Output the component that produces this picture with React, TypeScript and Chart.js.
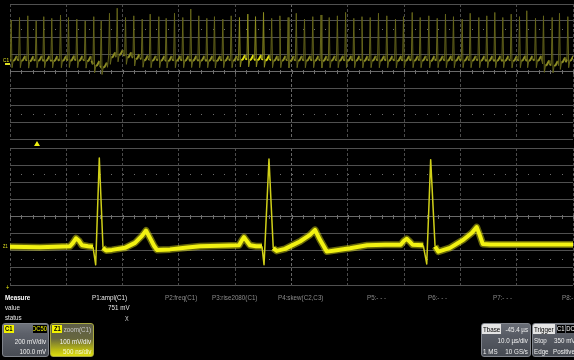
import React, { useEffect, useRef } from "react";
import { Chart, registerables } from "chart.js";

Chart.register(...registerables);

// ---------- C1 trace (top panel): 10 µs/div, 200 mV/div ----------
// time of each beat's spike (µs)
const topSpikeTimesUs = [
  0.21, 1.69, 3.16, 4.65, 6.0, 7.42, 8.97, 10.39, 11.87, 13.36,
  14.88, 16.2, 17.67, 19.04, 20.52, 21.99, 23.48, 24.9, 26.43, 27.74,
  29.22, 30.69, 32.11, 33.53, 34.96, 36.32, 37.8, 39.29, 40.76, 42.24,
  43.61, 45.03, 46.48, 47.94, 49.4, 50.85, 52.31, 53.78, 55.24, 56.7,
  58.15, 59.61, 61.07, 62.52, 63.98, 65.45, 66.93, 68.47, 69.89, 71.44,
  72.86, 74.39, 75.88, 77.35, 78.77, 80.32, 81.74, 83.27, 84.69, 86.11,
  87.53, 89.02, 90.5, 91.79, 93.34, 94.76, 96.3, 97.6, 99.08,
];
// spike peak of each beat (mV)
const topSpikePeaksMv = [
  610, 640, 660, 600, 650, 630, 670, 640, 620, 600,
  650, 600, 690, 750, 640, 660, 620, 680, 650, 630,
  690, 640, 740, 660, 630, 650, 620, 660, 640, 680,
  650, 700, 630, 660, 640, 690, 620, 650, 670, 640,
  660, 700, 630, 650, 640, 690, 660, 620, 650, 700,
  640, 660, 630, 680, 650, 620, 690, 640, 660, 700,
  640, 680, 650, 720, 630, 660, 640, 690, 650,
];
// baseline level around each beat (mV)
const topBaselineMv = [
  140, 140, 135, 140, 140, 138, 140, 142, 140, 135,
  80, 60, 180, 210, 180, 160, 145, 140, 140, 138,
  140, 140, 142, 140, 140, 138, 140, 140, 150, 150,
  150, 145, 140, 140, 138, 140, 140, 140, 138, 140,
  140, 140, 140, 138, 140, 140, 140, 138, 140, 140,
  140, 138, 140, 140, 140, 140, 140, 140, 140, 140,
  140, 138, 140, 140, 140, 85, 80, 120, 140,
];
// persistence intensity of each beat (1 = bright)
const topBrightBeats = [
  0, 0, 0, 0, 0, 0, 0, 0, 0, 0,
  0, 0, 0, 0, 0, 0, 0, 0, 0, 0,
  0, 0, 0, 0, 0, 0, 0, 0, 1, 1,
  1, 1, 0, 0, 0, 0, 0, 0, 0, 0,
  0, 0, 0, 0, 0, 0, 0, 0, 0, 0,
  0, 0, 0, 0, 0, 0, 0, 0, 0, 0,
  0, 0, 0, 0, 0, 0, 0, 0, 0,
];

// ---------- Z1 zoom trace (bottom panel): 500 ns/div, 100 mV/div ----------
const zoomTimesUs = [
  0, 0.266, 0.533, 0.559, 0.586, 0.613, 0.639, 0.693, 0.737, 0.761,
  0.793, 0.826, 0.853, 0.906, 1.021, 1.11, 1.172, 1.208, 1.243, 1.279,
  1.305, 1.421, 1.554, 1.687, 1.865, 2.034, 2.06, 2.078, 2.105, 2.131,
  2.185, 2.238, 2.256, 2.3, 2.338, 2.369, 2.442, 2.575, 2.664, 2.709,
  2.753, 2.813, 2.886, 3.02, 3.171, 3.331, 3.47, 3.499, 3.523, 3.552,
  3.576, 3.67, 3.701, 3.736, 3.775, 3.804, 3.908, 4.026, 4.103, 4.145,
  4.174, 4.198, 4.263, 5.0,
];
const zoomValuesMv = [
  -177, -180, -174, -154, -127, -142, -168, -174, -177, -282,
  342, -183, -198, -195, -183, -154, -113, -82, -125, -171,
  -195, -192, -183, -174, -171, -168, -138, -121, -145, -168,
  -174, -174, -282, 336, -185, -201, -189, -146, -107, -78,
  -136, -205, -198, -185, -168, -165, -165, -142, -130, -148,
  -165, -168, -277, 332, -175, -205, -183, -136, -95, -62,
  -113, -160, -163, -163,
];

// ---------- texts ----------
const measureHeaders = [
  { label: "P1:ampl(C1)", x: 92, on: true },
  { label: "P2:freq(C1)", x: 165, on: false },
  { label: "P3:rise2080(C1)", x: 212, on: false },
  { label: "P4:skew(C2,C3)", x: 278, on: false },
  { label: "P5:- - -", x: 367, on: false },
  { label: "P6:- - -", x: 428, on: false },
  { label: "P7:- - -", x: 493, on: false },
  { label: "P8:- - -", x: 562, on: false },
];
const p1Value = "751 mV";

const FONT = '"Liberation Sans", Arial, sans-serif';
const SQUEEZE = 0.78;

const TOP_POINTS_PER_BEAT = 7;

function buildTopPoints() {
  const pts: { x: number; y: number }[] = [{ x: 0, y: topBaselineMv[0] }];
  for (let i = 0; i < topSpikeTimesUs.length; i++) {
    const t = topSpikeTimesUs[i];
    const b = topBaselineMv[i];
    const p = topSpikePeaksMv[i];
    pts.push({ x: t - 0.15, y: b + 5 });
    pts.push({ x: t, y: p });
    pts.push({ x: t + 0.15, y: b - 95 });
    pts.push({ x: t + 0.35, y: b - 15 });
    pts.push({ x: t + 0.6, y: b - 5 });
    pts.push({ x: t + 1.0, y: b + 45 });
    pts.push({ x: t + 1.12, y: b - 10 });
  }
  return pts;
}

const minorMarks = {
  id: "minorMarks",
  beforeDatasetsDraw(chart: any) {
    const { ctx, scales } = chart;
    const x = scales.x;
    const y = scales.y;
    const xStep = x.options.ticks.stepSize / 5;
    const yStep = y.options.ticks.stepSize;
    ctx.save();
    ctx.fillStyle = "#6e6e6e";
    const py0 = Math.round(y.getPixelForValue(0));
    const pyA = Math.round(y.getPixelForValue(yStep * 2.5));
    const pyB = Math.round(y.getPixelForValue(-yStep * 2.5));
    for (let v = x.min; v <= x.max + 1e-9; v += xStep) {
      const px = Math.round(x.getPixelForValue(v));
      ctx.fillRect(px, py0 - 2, 1, 4);
      ctx.fillRect(px, pyA, 1, 1);
      ctx.fillRect(px, pyB, 1, 1);
    }
    ctx.restore();
  },
};

function gridScales(xMax: number, xStep: number, yMax: number, yStep: number) {
  return {
    x: {
      type: "linear" as const,
      min: 0,
      max: xMax,
      ticks: { display: false, stepSize: xStep },
      grid: {
        drawTicks: false,
        color: (c: any) => (Math.abs(c.tick.value - xMax / 2) < 1e-6 ? "#666666" : "#4a4a4a"),
        lineWidth: 1,
      },
      border: { display: false, dash: [3, 2] },
    },
    y: {
      type: "linear" as const,
      min: -yMax,
      max: yMax,
      ticks: { display: false, stepSize: yStep },
      grid: {
        drawTicks: false,
        color: (c: any) => (Math.abs(c.tick.value) < 1e-6 ? "#6a6a6a" : "#505050"),
        lineWidth: 1,
      },
      border: { display: false },
    },
  };
}

function steep(ctx: any, k: number) {
  const dx = Math.abs(ctx.p1.x - ctx.p0.x);
  const dy = Math.abs(ctx.p1.y - ctx.p0.y);
  return dy > k * Math.max(0.5, dx);
}

export default function App() {
  const topRef = useRef<HTMLCanvasElement>(null);
  const botRef = useRef<HTMLCanvasElement>(null);

  useEffect(() => {
    const topChart = new Chart(topRef.current as HTMLCanvasElement, {
      type: "line",
      data: {
        datasets: [
          {
            data: buildTopPoints(),
            borderColor: "#8f8f24",
            borderWidth: 2,
            pointRadius: 0,
            tension: 0,
            segment: {
              borderWidth: (c: any) => (steep(c, 3) ? 1 : 2),
              borderColor: (c: any) => {
                const beat = Math.max(0, Math.floor((c.p0DataIndex - 1) / TOP_POINTS_PER_BEAT));
                const bright = topBrightBeats[beat] === 1;
                if (steep(c, 3)) return bright ? "#8c8c1e" : "#64641a";
                return bright ? "#e0e010" : "#8e8e26";
              },
            },
          },
        ],
      },
      options: {
        responsive: false,
        animation: false,
        events: [],
        layout: { padding: { left: 10, right: 1, top: 4, bottom: 221 } },
        plugins: { legend: { display: false }, tooltip: { enabled: false } },
        scales: gridScales(100, 10, 800, 200),
      },
      plugins: [minorMarks],
    });

    const zoomPoints = zoomTimesUs.map((t, i) => ({ x: t, y: zoomValuesMv[i] }));
    const botChart = new Chart(botRef.current as HTMLCanvasElement, {
      type: "line",
      data: {
        datasets: [
          {
            data: zoomPoints,
            borderColor: "#f0f010",
            borderWidth: 4,
            pointRadius: 0,
            tension: 0,
            borderJoinStyle: "round",
            segment: {
              borderWidth: (c: any) => (steep(c, 4) ? 1.5 : 4),
              borderColor: (c: any) => (steep(c, 4) ? "#d0d018" : "#f2f212"),
            },
            order: 1,
          },
          {
            data: zoomPoints,
            borderColor: "rgba(230,230,20,0.45)",
            borderWidth: 7,
            pointRadius: 0,
            tension: 0,
            borderJoinStyle: "round",
            segment: {
              borderWidth: (c: any) => (steep(c, 4) ? 0 : 7),
              borderColor: (c: any) => (steep(c, 4) ? "rgba(0,0,0,0)" : "rgba(230,230,20,0.45)"),
            },
            order: 2,
          },
        ],
      },
      options: {
        responsive: false,
        animation: false,
        events: [],
        layout: { padding: { left: 10, right: 1, top: 148, bottom: 75 } },
        plugins: { legend: { display: false }, tooltip: { enabled: false } },
        scales: gridScales(5, 0.5, 400, 100),
      },
      plugins: [minorMarks],
    });

    return () => {
      topChart.destroy();
      botChart.destroy();
    };
  }, []);

  const txt = (
    content: React.ReactNode,
    x: number,
    y: number,
    opts: { color?: string; bold?: boolean; right?: boolean; size?: number; squeeze?: number } = {}
  ) => {
    const size = opts.size ?? 8;
    const style: React.CSSProperties = {
      position: "absolute",
      top: y - (size + 2) / 2,
      fontSize: size,
      lineHeight: `${size + 2}px`,
      color: opts.color ?? "#e8e8e8",
      fontWeight: opts.bold ? 700 : 400,
      whiteSpace: "nowrap",
      transform: `scaleX(${opts.squeeze ?? SQUEEZE})`,
      transformOrigin: opts.right ? "right center" : "left center",
    };
    if (opts.right) style.right = 574 - x;
    else style.left = x;
    return <div style={style}>{content}</div>;
  };

  const boxBase: React.CSSProperties = {
    position: "absolute",
    top: 323,
    height: 34,
    borderRadius: 3,
    overflow: "hidden",
    boxSizing: "border-box",
  };
  const inner = (content: React.ReactNode, style: React.CSSProperties, origin = "right") => (
    <div
      style={{
        position: "absolute",
        fontSize: 8,
        lineHeight: "9px",
        whiteSpace: "nowrap",
        transform: `scaleX(${SQUEEZE})`,
        transformOrigin: `${origin} center`,
        ...style,
      }}
    >
      {content}
    </div>
  );
  const tag = (content: string, style: React.CSSProperties) => (
    <div
      style={{
        position: "absolute",
        height: 8,
        overflow: "hidden",
        display: "flex",
        alignItems: "center",
        justifyContent: "center",
        ...style,
      }}
    >
      <span style={{ fontSize: 7.5, lineHeight: "8px", whiteSpace: "nowrap", transform: `scaleX(${SQUEEZE})` }}>
        {content}
      </span>
    </div>
  );

  return (
    <div
      style={{
        position: "fixed",
        left: 0,
        top: 0,
        width: 574,
        height: 360,
        background: "#000",
        overflow: "hidden",
        fontFamily: FONT,
      }}
    >
      <canvas ref={topRef} width={574} height={360} style={{ position: "absolute", left: 0, top: 0 }} />
      <canvas ref={botRef} width={574} height={360} style={{ position: "absolute", left: 0, top: 0 }} />

      {/* channel markers */}
      {txt("C1", 3, 60, { color: "#e0e020", size: 6 })}
      <div style={{ position: "absolute", left: 5, top: 63, width: 5, height: 2, background: "#e0e020" }} />
      {txt("Z1", 3, 246, { color: "#e0e020", size: 5 })}
      <div
        style={{
          position: "absolute",
          left: 34,
          top: 141,
          width: 0,
          height: 0,
          borderLeft: "3px solid transparent",
          borderRight: "3px solid transparent",
          borderBottom: "5px solid #f0f010",
        }}
      />
      {txt("+", 6, 287, { color: "#f0f010", size: 7 })}

      {/* measurement table */}
      {txt("Measure", 5, 298, { bold: true, color: "#ffffff" })}
      {txt("value", 5, 308)}
      {txt("status", 5, 318)}
      {measureHeaders.map((m) => (
        <React.Fragment key={m.label}>{txt(m.label, m.x, 298, { color: m.on ? "#e8e8e8" : "#8c8c8c" })}</React.Fragment>
      ))}
      {txt(p1Value, 130, 308, { right: true })}
      {txt("X", 125, 318, { color: "#dcdcdc", size: 7 })}

      {/* C1 box */}
      <div
        style={{
          ...boxBase,
          left: 2,
          width: 47,
          background: "linear-gradient(#70747d 0%, #5d616a 30%, #484c54 100%)",
          border: "1px solid #80848c",
        }}
      >
        {tag("C1", { left: 1, top: 1, width: 10, background: "#f2f200", color: "#000", fontWeight: 700 })}
        {tag("DC50", { right: 1, top: 1, width: 14, background: "#000", color: "#f2f200" })}
        {inner("200 mV/div", { right: 2, top: 13, color: "#f0f0f0" })}
        {inner("100.0 mV", { right: 2, top: 23, color: "#f0f0f0" })}
      </div>

      {/* Z1 box */}
      <div
        style={{
          ...boxBase,
          left: 50,
          width: 44,
          background: "linear-gradient(#5e5e48 0%, #66663e 45%, #b8b814 80%, #dede10 100%)",
          border: "1px solid #a8a840",
        }}
      >
        {tag("Z1", { left: 1, top: 1, width: 10, background: "#f2f200", color: "#000", fontWeight: 700 })}
        {inner("zoom(C1)", { right: 2, top: 1, color: "#c8c8c8" })}
        {inner("100 mV/div", { right: 2, top: 13, color: "#f4f4f4" })}
        {inner("500 ns/div", { right: 2, top: 23, color: "#fbfbd0" })}
      </div>

      {/* Tbase box */}
      <div
        style={{
          ...boxBase,
          left: 481,
          width: 50,
          background: "linear-gradient(#6a6e77 0%, #585c65 35%, #464a52 100%)",
          border: "1px solid #80848c",
        }}
      >
        <div style={{ position: "absolute", left: 0, top: 0, width: 19, height: 10, background: "#e4e4e4" }} />
        {inner("Tbase", { left: 1, top: 1, color: "#000" }, "left")}
        {inner("-45.4 µs", { right: 2, top: 1, color: "#f0f0f0" })}
        {inner("10.0 µs/div", { right: 2, top: 12, color: "#f0f0f0" })}
        {inner("1 MS", { left: 1, top: 23, color: "#f0f0f0" }, "left")}
        {inner("10 GS/s", { right: 2, top: 23, color: "#f0f0f0" })}
      </div>

      {/* Trigger box */}
      <div
        style={{
          ...boxBase,
          left: 532,
          width: 50,
          background: "linear-gradient(#6a6e77 0%, #585c65 35%, #464a52 100%)",
          border: "1px solid #80848c",
        }}
      >
        <div style={{ position: "absolute", left: 0, top: 0, width: 22, height: 10, background: "#e4e4e4" }} />
        {inner("Trigger", { left: 1, top: 1, color: "#000" }, "left")}
        {tag("C1", { left: 24, top: 1, width: 8, background: "#000", color: "#fff" })}
        {tag("DC", { left: 33, top: 1, width: 9, background: "#000", color: "#fff" })}
        {inner("Stop", { left: 1, top: 12, color: "#f0f0f0" }, "left")}
        {inner("350 mV", { left: 21, top: 12, color: "#f0f0f0" }, "left")}
        {inner("Edge", { left: 1, top: 23, color: "#f0f0f0" }, "left")}
        {inner("Positive", { left: 20, top: 23, color: "#f0f0f0" }, "left")}
      </div>
    </div>
  );
}
